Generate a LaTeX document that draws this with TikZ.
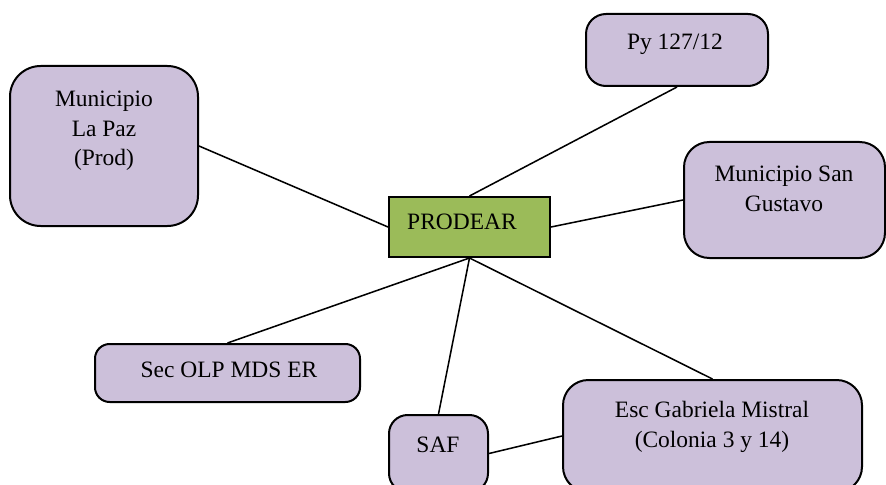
\documentclass[tikz,border=0pt]{standalone}
\usepackage{fontspec}
\setmainfont{Liberation Serif}
\definecolor{lilac}{HTML}{CCC0DA}
\definecolor{leaf}{HTML}{9BBB59}
\begin{document}
\begin{tikzpicture}[x=0.75pt,y=-0.75pt,
  box/.style={draw=black,line width=1.5pt,fill=lilac,inner sep=0pt},
  hub/.style={draw=black,line width=1.5pt,fill=leaf,inner sep=0pt},
  txt/.style={font=\fontsize{17.6}{22}\selectfont,align=center,inner sep=0pt},
  link/.style={draw=black,line width=1.15pt}]
\useasboundingbox (0,0) rectangle (886,485);
\clip (0,0) rectangle (886,485);
\node[box,rounded corners=23pt,minimum width=141pt,minimum height=120pt] (lapaz) at (104,146) {};
\node[box,rounded corners=15pt,minimum width=136.5pt,minimum height=54pt] (py) at (677,50) {};
\node[box,rounded corners=19pt,minimum width=150.75pt,minimum height=87pt] (sg) at (784.5,200) {};
\node[hub,minimum width=120.75pt,minimum height=45pt] (prodear) at (469.5,227) {};
\node[box,rounded corners=11pt,minimum width=198.75pt,minimum height=43.5pt] (sec) at (227.5,373) {};
\node[box,rounded corners=14pt,minimum width=74.25pt,minimum height=57.75pt] (saf) at (438.5,453.5) {};
\node[box,rounded corners=19pt,minimum width=224.25pt,minimum height=84pt] (esc) at (712.5,436) {};
\draw[link] (lapaz.east) -- (prodear.west);
\draw[link] (prodear.north) -- (py.south);
\draw[link] (prodear.east) -- (sg.west);
\draw[link] (prodear.south) -- (sec.north);
\draw[link] (prodear.south) -- (saf.north);
\draw[link] (prodear.south) -- (esc.north);
\draw[link] (saf.east) -- (esc.west);
\node[txt] (lapazT) at (104,131) {Municipio\\La Paz\\(Prod)};
\node[txt] (pyT) at (675,44) {Py 127/12};
\node[txt] (sgT) at (784,189) {Municipio San\\Gustavo};
\node[txt] (prodearT) at (462,222) {PRODEAR};
\node[txt] (secT) at (229,370) {Sec OLP MDS ER};
\node[txt] (safT) at (438,445) {SAF};
\node[txt] (escT) at (712,427) {Esc Gabriela Mistral\\(Colonia 3 y 14)};
\end{tikzpicture}
\end{document}
